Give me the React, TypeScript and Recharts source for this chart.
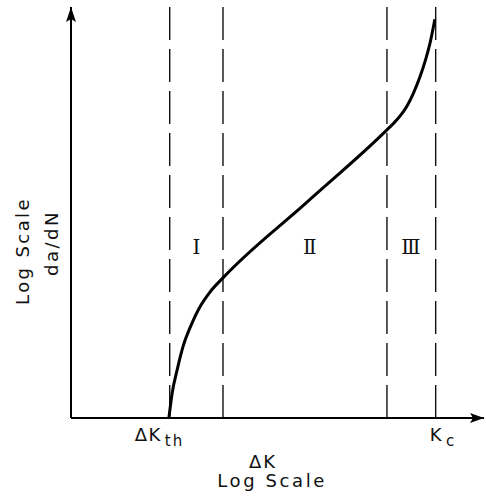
import React from 'react';
import { LineChart, Line, XAxis, YAxis, ReferenceLine, ReferenceDot, Label } from 'recharts';

// Schematic fatigue crack growth curve (log da/dN vs log ΔK), arbitrary units 0..100
const curveX = [23.7, 24.5, 25.7, 27.1, 29.3, 31.2, 33.7, 36.8, 57.0, 76.5, 78.0, 79.7, 81.4, 82.9, 84.5, 85.8, 87.0, 88.1];
const curveY = [0, 6.1, 11.7, 17.3, 23.1, 27.0, 30.7, 34.1, 52.4, 70.1, 71.6, 73.5, 76.0, 79.0, 83.0, 87.0, 91.5, 97.0];

// Region boundaries: ΔK_th, I/II, II/III, K_c
const boundaries = [23.9, 36.8, 76.5, 88.3];
const tickValues = [23.9, 88.3];
const tickNames = ['ΔK|th', 'K|c'];

const stageLabels = ['Ⅰ', 'Ⅱ', 'Ⅲ'];
const stageX = [30.4, 57.8, 82.3];
const stageY = 41.6;

const xAxisTitle = ['ΔK', 'Log Scale'];
const yAxisTitle = ['Log Scale', 'da/dN'];

const data = curveX.map((x, i) => ({ x, y: curveY[i] }));

const FONT = '"DejaVu Sans", sans-serif';

const Tick = (props: any) => {
  const { x, y, payload } = props;
  const idx = tickValues.indexOf(payload.value);
  const [main, sub] = tickNames[idx].split('|');
  const isTh = idx === 0;
  const startX = isTh ? x - 35 : x - 6;
  return (
    <text x={startX} y={y + 21} fontFamily={FONT} fontSize={18} fill="#111" letterSpacing={1.5}>
      {main}
      <tspan dy={5} dx={3} fontSize={15} letterSpacing={2}>{sub}</tspan>
    </text>
  );
};

const XTitle = (props: any) => {
  const vb = props.viewBox;
  const cx = vb.x + vb.width * 0.47;
  return (
    <g>
      <text x={cx - 2} y={vb.y + 50} textAnchor="middle" fontFamily={FONT} fontSize={18} fill="#111" letterSpacing={2}>
        {xAxisTitle[0]}
      </text>
      <text x={cx + 7} y={vb.y + 69} textAnchor="middle" fontFamily={FONT} fontSize={18} fill="#111" letterSpacing={2.6}>
        {xAxisTitle[1]}
      </text>
    </g>
  );
};

const YTitle = () => {
  return (
    <g>
      <text x={29} y={251} transform="rotate(-90 29 251)" textAnchor="middle" fontFamily={FONT} fontSize={18} fill="#111" letterSpacing={2.4}>
        {yAxisTitle[0]}
      </text>
      <text x={58} y={243} transform="rotate(-90 58 243)" textAnchor="middle" fontFamily={FONT} fontSize={18} fill="#111" letterSpacing={2.5}>
        {yAxisTitle[1]}
      </text>
    </g>
  );
};

const ArrowRight = (props: any) => {
  const { cx, cy } = props;
  return <path d={`M${cx},${cy} L${cx - 14},${cy - 5} L${cx - 11},${cy} L${cx - 14},${cy + 5} Z`} fill="#000" />;
};

const ArrowUp = (props: any) => {
  const { cx, cy } = props;
  return <path d={`M${cx},${cy} L${cx - 5},${cy + 15} L${cx},${cy + 12} L${cx + 5},${cy + 15} Z`} fill="#000" />;
};

const StageLabel = (text: string) => (props: any) => {
  const { viewBox } = props;
  const cx = viewBox.x + (viewBox.width || 0) / 2;
  const cy = viewBox.y + (viewBox.height || 0) / 2;
  return (
    <text x={cx} y={cy + 7} textAnchor="middle" fontFamily='"DejaVu Serif", serif' fontSize={20} fill="#111">
      {text}
    </text>
  );
};

export default function App() {
  return (
    <div style={{ position: 'absolute', left: 0, top: 0, background: '#fff' }}>
      <LineChart width={486} height={498} data={data} margin={{ top: 7, right: 2, left: 0, bottom: 0 }}>
        <XAxis
          dataKey="x"
          type="number"
          domain={[0, 100]}
          ticks={tickValues}
          tick={<Tick />}
          tickLine={false}
          tickSize={0}
          axisLine={{ stroke: '#000', strokeWidth: 2 }}
          height={80}
          interval={0}
        >
          <Label content={<XTitle />} />
        </XAxis>
        <YAxis
          type="number"
          domain={[0, 100]}
          width={71}
          tick={false}
          tickLine={false}
          axisLine={{ stroke: '#000', strokeWidth: 2 }}
        >
          <Label content={<YTitle />} />
        </YAxis>
        {boundaries.map((b, i) => (
          <ReferenceLine key={i} x={b} stroke="#111" strokeWidth={1.4} strokeDasharray="33 9" />
        ))}
        {stageLabels.map((s, i) => (
          <ReferenceDot key={s} x={stageX[i]} y={stageY} r={0} fill="none" stroke="none" label={StageLabel(s)} />
        ))}
        <Line
          type="monotone"
          dataKey="y"
          stroke="#000"
          strokeWidth={3}
          dot={false}
          isAnimationActive={false}
        />
        <ReferenceDot x={100} y={0} r={0} shape={<ArrowRight />} />
        <ReferenceDot x={0} y={100} r={0} shape={<ArrowUp />} />
      </LineChart>
    </div>
  );
}
